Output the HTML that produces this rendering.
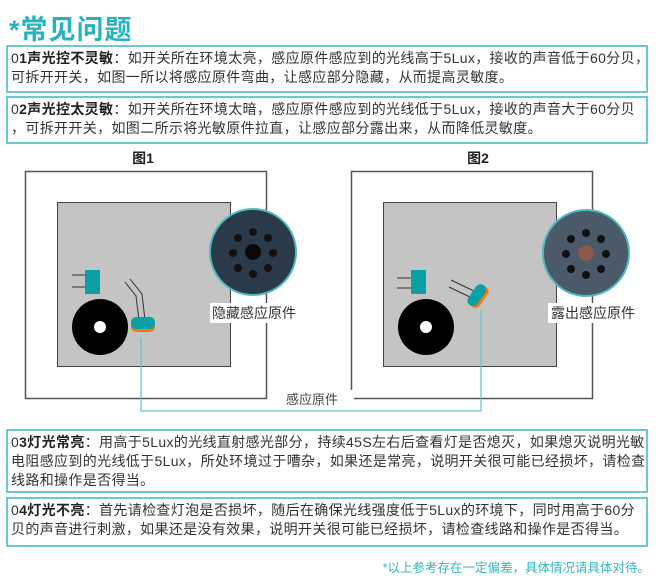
<!DOCTYPE html>
<html><head><meta charset="utf-8"><style>
body{margin:0;width:660px;height:581px;background:#fff;position:relative;overflow:hidden;font-family:"Liberation Sans","Noto Sans CJK SC",sans-serif;color:#333}
.t{position:absolute;left:9px;top:8px;font-size:27px;font-weight:bold;color:#25b3bd;letter-spacing:1px}
.b{position:absolute;left:6px;width:642px;border:2px solid #6cc9cf;padding:2px 0 0 3px;font-size:14px;line-height:19px;color:#333;box-sizing:border-box;letter-spacing:0.35px;white-space:nowrap;overflow:hidden}
.b b{color:#222}
.f{position:absolute;right:10px;top:557px;font-size:12.5px;color:#33b5bf}
</style></head><body>
<div class="t">*常见问题</div>
<div class="b" style="top:45px;height:48px">0<b>1声光控不灵敏</b>：如开关所在环境太亮，感应原件感应到的光线高于5Lux，接收的声音低于60分贝，<br>可拆开开关，如图一所以将感应原件弯曲，让感应部分隐藏，从而提高灵敏度。</div>
<div class="b" style="top:96px;height:48px">0<b>2声光控太灵敏</b>：如开关所在环境太暗，感应原件感应到的光线低于5Lux，接收的声音大于60分贝<br>，可拆开开关，如图二所示将光敏原件拉直，让感应部分露出来，从而降低灵敏度。</div>
<svg style="position:absolute;left:0;top:0" width="660" height="581">
<g font-family="Liberation Sans,Noto Sans CJK SC,sans-serif">
<text x="143" y="163" font-size="14" font-weight="bold" text-anchor="middle" fill="#222">图1</text>
<text x="478" y="163" font-size="14" font-weight="bold" text-anchor="middle" fill="#222">图2</text>
<rect x="25.5" y="171.5" width="241" height="227" fill="#fff" stroke="#555" stroke-width="1.5"/>
<rect x="57.5" y="202.5" width="173" height="164" fill="#c4c4c4" stroke="#444"/>
<rect x="351.5" y="171.5" width="241" height="227" fill="#fff" stroke="#555" stroke-width="1.5"/>
<rect x="383.5" y="202.5" width="173" height="164" fill="#c4c4c4" stroke="#444"/>
<polyline points="141,338 141,411 481,411 481,310" fill="none" stroke="#5cc3c9" stroke-width="1.2"/>
<rect x="270" y="390" width="84" height="18" fill="#fff"/>
<text x="312" y="404" font-size="13" text-anchor="middle" fill="#444">感应原件</text>
<line x1="72" y1="275" x2="86" y2="275" stroke="#333"/><line x1="72" y1="287" x2="86" y2="287" stroke="#333"/>
<rect x="85" y="270" width="15" height="24" fill="#0aa0a5"/>
<circle cx="100" cy="327" r="28" fill="#000"/><circle cx="100" cy="327" r="6" fill="#fff"/>
<polyline points="125,282 136,296 139,320" fill="none" stroke="#333"/>
<polyline points="130,279 142,294 145,320" fill="none" stroke="#333"/>
<rect x="131" y="318" width="24" height="14" rx="5" fill="#f07a16"/>
<rect x="131" y="317" width="24" height="12" rx="5" fill="#0aa0a5"/>
<line x1="397" y1="278" x2="412" y2="278" stroke="#333"/><line x1="397" y1="288" x2="412" y2="288" stroke="#333"/>
<rect x="411" y="270" width="15" height="24" fill="#0aa0a5"/>
<circle cx="426" cy="327" r="28" fill="#000"/><circle cx="426" cy="327" r="6" fill="#fff"/>
<line x1="451" y1="280" x2="478" y2="293" stroke="#333"/><line x1="449" y1="287" x2="474" y2="299" stroke="#333"/>
<g transform="rotate(-55 478 296)"><rect x="466" y="290" width="24" height="13" rx="5" fill="#f07a16"/><rect x="466" y="289" width="24" height="11" rx="5" fill="#0aa0a5"/></g>
<circle cx="253" cy="252" r="43" fill="#2a3a48" stroke="#4fb8be" stroke-width="2"/>
<circle cx="253" cy="252" r="8" fill="#0a0a0a"/>
<g fill="#111"><circle cx="253" cy="232" r="4"/><circle cx="268" cy="238" r="4"/><circle cx="273" cy="253" r="4"/><circle cx="268" cy="268" r="4"/><circle cx="253" cy="274" r="4"/><circle cx="238" cy="268" r="4"/><circle cx="233" cy="253" r="4"/><circle cx="238" cy="238" r="4"/></g>
<circle cx="586" cy="253" r="43" fill="#4a5a68" stroke="#4fb8be" stroke-width="2"/>
<circle cx="586" cy="253" r="8" fill="#8a5a48"/>
<g fill="#111"><circle cx="586" cy="233" r="4"/><circle cx="601" cy="239" r="4"/><circle cx="606" cy="254" r="4"/><circle cx="601" cy="269" r="4"/><circle cx="586" cy="275" r="4"/><circle cx="571" cy="269" r="4"/><circle cx="566" cy="254" r="4"/><circle cx="571" cy="239" r="4"/></g>
<rect x="210" y="303" width="92" height="20" fill="#fff"/>
<text x="212" y="318" font-size="14" fill="#333">隐藏感应原件</text>
<rect x="548" y="303" width="94" height="20" fill="#fff"/>
<text x="551" y="318" font-size="14" fill="#333">露出感应原件</text>
</g></svg>
<div class="b" style="top:429px;height:64px">0<b>3灯光常亮</b>：用高于5Lux的光线直射感光部分，持续45S左右后查看灯是否熄灭，如果熄灭说明光敏<br>电阻感应到的光线低于5Lux，所处环境过于嘈杂，如果还是常亮，说明开关很可能已经损坏，请检查<br>线路和操作是否得当。</div>
<div class="b" style="top:497px;height:50px">0<b>4灯光不亮</b>：首先请检查灯泡是否损坏，随后在确保光线强度低于5Lux的环境下，同时用高于60分<br>贝的声音进行刺激，如果还是没有效果，说明开关很可能已经损坏，请检查线路和操作是否得当。</div>
<div class="f">*以上参考存在一定偏差，具体情况请具体对待。</div>
</body></html>
